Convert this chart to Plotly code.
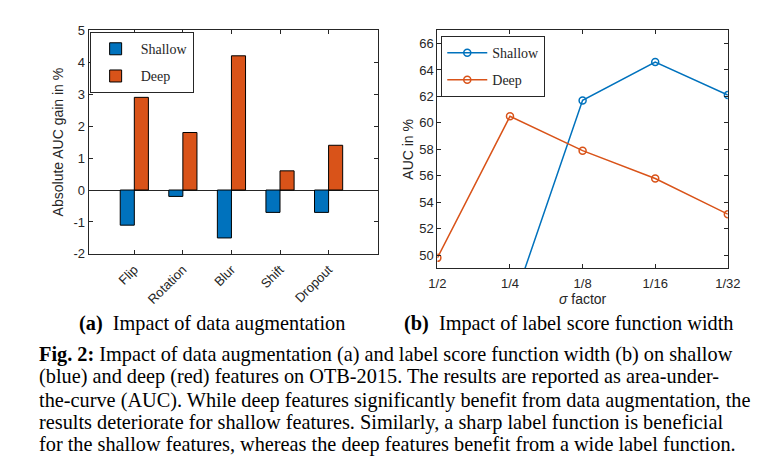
import plotly.graph_objects as go

# ---- data ----
aug_categories = ["Flip", "Rotation", "Blur", "Shift", "Dropout"]
aug_shallow = [-1.1, -0.2, -1.5, -0.7, -0.7]
aug_deep = [2.9, 1.8, 4.2, 0.6, 1.4]
aug_yticks = [-2, -1, 0, 1, 2, 3, 4, 5]

sigma_labels = ["1/2", "1/4", "1/8", "1/16", "1/32"]
sigma_shallow = [None, 45.7, 61.7, 64.6, 62.1]
sigma_deep = [49.8, 60.5, 57.9, 55.8, 53.1]
sigma_yticks = [50, 52, 54, 56, 58, 60, 62, 64, 66]

BLUE = "#0072BD"
ORANGE = "#D95319"
AX = "#262626"
SANS = "Liberation Sans, Arial, sans-serif"
SERIF = "Liberation Serif, Times New Roman, serif"

W, H = 769, 474
def px(x):
    return x / W
def py(y):
    return 1 - y / H

fig = go.Figure()

pos = list(range(1, len(aug_categories) + 1))
fig.add_trace(go.Bar(x=pos, y=aug_shallow, name="Shallow", marker=dict(color=BLUE, line=dict(color="black", width=1)),
                     xaxis="x", yaxis="y", legend="legend", legendgroup="a1"))
fig.add_trace(go.Bar(x=pos, y=aug_deep, name="Deep", marker=dict(color=ORANGE, line=dict(color="black", width=1)),
                     xaxis="x", yaxis="y", legend="legend", legendgroup="a2"))

spos = list(range(1, len(sigma_labels) + 1))
fig.add_trace(go.Scatter(x=spos, y=sigma_shallow, name="Shallow", mode="lines+markers",
                         line=dict(color=BLUE, width=1.5),
                         marker=dict(symbol="circle-open", size=7, color=BLUE, line=dict(width=1.5)),
                         xaxis="x2", yaxis="y2", legend="legend2", legendgroup="b1", connectgaps=False))
fig.add_trace(go.Scatter(x=spos, y=sigma_deep, name="Deep", mode="lines+markers",
                         line=dict(color=ORANGE, width=1.5),
                         marker=dict(symbol="circle-open", size=7, color=ORANGE, line=dict(width=1.5)),
                         xaxis="x2", yaxis="y2", legend="legend2", legendgroup="b2"))

axcommon = dict(showline=True, linecolor=AX, linewidth=1, mirror="ticks", ticks="inside", ticklen=4,
                tickcolor=AX, showgrid=False, tickfont=dict(family=SANS, size=13, color=AX))

fig.update_layout(
    width=W, height=H, margin=dict(l=0, r=0, t=0, b=0),
    paper_bgcolor="white", plot_bgcolor="white",
    barmode="group", bargap=0.42, bargroupgap=0,
    showlegend=True,
    xaxis=dict(domain=[px(82), px(380)], range=[0.06, 6.02], tickvals=pos, ticktext=aug_categories,
               tickangle=-45, anchor="y", zeroline=False, ticklabelstandoff=2, **axcommon),
    yaxis=dict(domain=[py(255), py(24)], range=[-2, 5], tickvals=aug_yticks,
               ticktext=[str(v) for v in aug_yticks], anchor="x",
               zeroline=True, zerolinecolor=AX, zerolinewidth=1,
               title=dict(text="Absolute AUC gain in %", font=dict(family=SANS, size=14, color=AX), standoff=6),
               **axcommon),
    xaxis2=dict(domain=[px(441), px(740)], range=[1, 5], tickvals=spos, ticktext=sigma_labels,
                anchor="y2", zeroline=False, ticklabelstandoff=3,
                title=dict(text="<i>σ</i> factor", font=dict(family=SANS, size=14, color=AX), standoff=0),
                **axcommon),
    yaxis2=dict(domain=[py(270), py(24)], range=[49, 67], tickvals=sigma_yticks,
                ticktext=[str(v) for v in sigma_yticks], anchor="x2", zeroline=False,
                title=dict(text="AUC in %", font=dict(family=SANS, size=14, color=AX), standoff=2),
                **axcommon),
    legend=dict(x=px(83), y=py(26), xanchor="left", yanchor="top", bordercolor=AX, borderwidth=1,
                bgcolor="white", font=dict(family=SERIF, size=14, color=AX), itemwidth=40,
                tracegroupgap=6),
    legend2=dict(x=px(445), y=py(30), xanchor="left", yanchor="top", bordercolor=AX, borderwidth=1,
                 bgcolor="white", font=dict(family=SERIF, size=14, color=AX), itemwidth=40,
                 tracegroupgap=6),
)

# captions
CAP = 20.3
fig.add_annotation(text="<b>(a)</b>  Impact of data augmentation", x=px(209), y=py(327), xref="paper", yref="paper",
                   showarrow=False, xanchor="center", yanchor="middle", font=dict(family=SERIF, size=CAP, color="black"))
fig.add_annotation(text="<b>(b)</b>  Impact of label score function width", x=px(576), y=py(327), xref="paper", yref="paper",
                   showarrow=False, xanchor="center", yanchor="middle", font=dict(family=SERIF, size=CAP, color="black"))

caption_lines = [
    "<b>Fig. 2:</b> Impact of data augmentation (a) and label score function width (b) on shallow",
    "(blue) and deep (red) features on OTB-2015. The results are reported as area-under-",
    "the-curve (AUC). While deep features significantly benefit from data augmentation, the",
    "results deteriorate for shallow features. Similarly, a sharp label function is beneficial",
    "for the shallow features, whereas the deep features benefit from a wide label function.",
]
line_y = [359, 382, 406, 429, 452]
for t, yy in zip(caption_lines, line_y):
    fig.add_annotation(text=t, x=px(29), y=py(yy), xref="paper", yref="paper", showarrow=False,
                       xanchor="left", yanchor="middle", font=dict(family=SERIF, size=CAP, color="black"))

fig.write_html("out.html")
